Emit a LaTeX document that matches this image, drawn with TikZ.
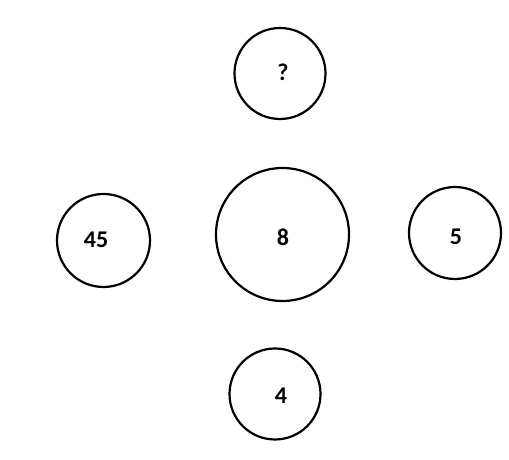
\documentclass[tikz,border=0pt]{standalone}
\usepackage{fontspec}
\setmainfont{Carlito}
\usepackage{tikz}

\begin{document}
\begin{tikzpicture}[x=1pt,y=1pt]
            \tikzstyle{every node}=[font=\fontsize{24}{28}\selectfont\bfseries]
            \tikzstyle{ring}=[draw,circle,line width=2.2pt,inner sep=0pt]
            \useasboundingbox (0,0) rectangle (509,460);
            \node[ring,minimum size=91pt] (top) at (280,386.5) {};
            \node[ring,minimum size=133pt] (mid) at (282.5,225.5) {};
            \node[ring,minimum size=93pt] (left) at (103.5,219.5) {};
            \node[ring,minimum size=92pt] (right) at (455,227) {};
            \node[ring,minimum size=91pt] (bottom) at (275,66) {};
            \node (topt) at (283,388) {?};
            \node (midt) at (283,223) {8};
            \node (leftt) at (96,220) {45};
            \node (rightt) at (456,223) {5};
            \node (bottomt) at (281,64) {4};
          \end{tikzpicture}
\end{document}
